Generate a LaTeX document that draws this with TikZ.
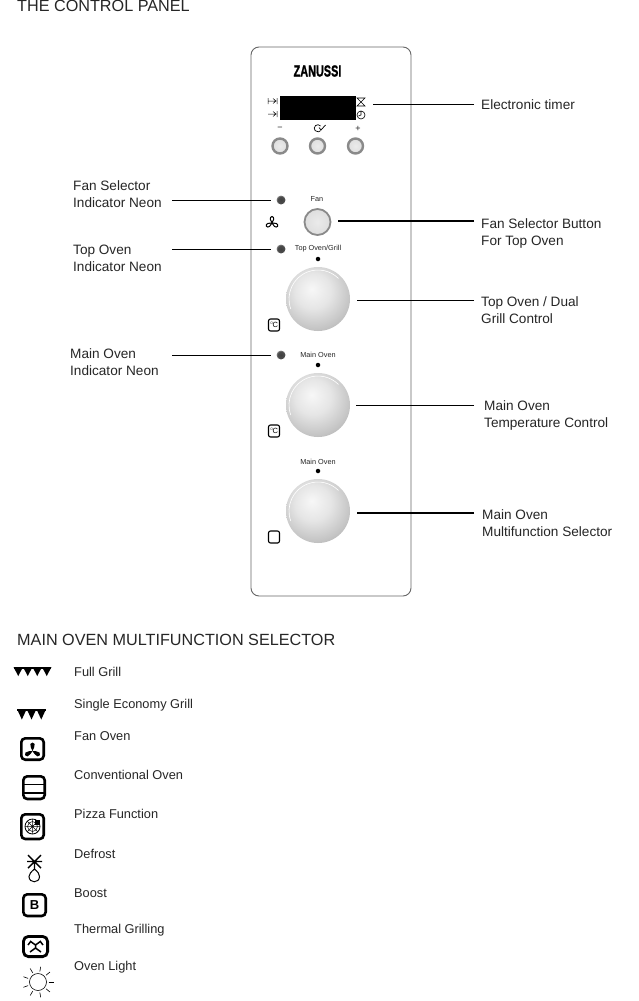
\documentclass[tikz,border=0pt]{standalone}
\usepackage{fontspec}
\setmainfont{Liberation Sans}
\definecolor{ink}{HTML}{262626}
\definecolor{rim}{HTML}{8A8A8A}
\pgfdeclareradialshading{knobshade}{\pgfpoint{-5bp}{8bp}}{color(0bp)=(white!97!black);color(14bp)=(white!90!black);color(28bp)=(white!77!black);color(40bp)=(white!63!black);color(50bp)=(white!55!black);color(60bp)=(white!60!black);color(70bp)=(white!62!black)}
\pgfdeclareradialshading{btnshade}{\pgfpoint{0bp}{0bp}}{color(0bp)=(white!92!black);color(30bp)=(white!86!black);color(40bp)=(white!80!black);color(50bp)=(white!80!black)}
\pgfdeclareradialshading{neonshade}{\pgfpoint{0bp}{0bp}}{color(0bp)=(black!75);color(20bp)=(black!70);color(30bp)=(black!30);color(40bp)=(black!35);color(50bp)=(black!60)}
\tikzset{
  x=1pt,y=-1pt,
  head/.style={font=\fontsize{16.2}{19}\selectfont,anchor=west,inner sep=0,text=ink},
  lab/.style={font=\fontsize{13.6}{17}\selectfont,anchor=west,align=left,inner sep=0,text=ink},
  item/.style={font=\fontsize{12.8}{15}\selectfont,anchor=base west,inner sep=0,text=ink},
  tiny/.style={font=\fontsize{7.3}{8}\selectfont,inner sep=0,text=ink},
  conn/.style={draw=black,line width=.8pt},
  connb/.style={draw=black,line width=1.4pt},
  knob/.style={circle,minimum size=64pt,inner sep=0,shading=knobshade},
  knobarc/.style={draw=white,line width=.6pt},
  btn/.style={circle,minimum size=15pt,inner sep=0,shading=btnshade,draw=rim,line width=2.4pt},
  fanbtn/.style={circle,minimum size=26pt,inner sep=0,shading=btnshade,draw=rim,line width=1.8pt},
  neon/.style={circle,minimum size=9pt,inner sep=0,shading=neonshade},
  pdot/.style={circle,fill=black,minimum size=4.5pt,inner sep=0},
  ico/.style={draw=black,line width=2.6pt,rounded corners=4pt},
  cbox/.style={draw=black,line width=1.1pt,rounded corners=2pt,minimum width=11pt,minimum height=12pt,inner sep=0,font=\fontsize{7.5}{8}\selectfont},
  thin2/.style={draw=black,line width=.6pt},
}
\begin{document}
\begin{tikzpicture}
\useasboundingbox (0,0) rectangle (638,1001);
\fill[white] (0,0) rectangle (638,1001);

\node[head] (h1) at (17,6) {THE CONTROL PANEL};
\node[head] (h2) at (17,640) {MAIN OVEN MULTIFUNCTION SELECTOR};

% panel
\draw[draw=black!60,line width=.9pt,rounded corners=8pt] (251,47) rectangle (411,596);
\node[inner sep=0,font=\bfseries\fontsize{16}{17}\selectfont,xscale=.68,text=black] (logo) at (317.5,71) {\addfontfeature{FakeBold=1.5}ZANUSSI};
\fill[black] (280,96) rectangle (356,120);

% timer symbols
\draw[thin2,line width=.5pt] (268,98)--(268,104) (268,101)--(276,101) (273,98.5)--(276,101)--(273,103.5) (277,98)--(277,104);
\draw[thin2,line width=.5pt] (268,114)--(276,114) (273,111.5)--(276,114)--(273,116.5) (277,111)--(277,117);
\draw[thin2,line width=.6pt] (357,98)--(365,98)--(357,106)--(365,106)--cycle;
\draw[thin2,line width=.6pt] (361,115) circle (4) (361,115)--(361,111.5) (361,115)--(358.5,116);

\node[tiny,font=\fontsize{9}{9}\selectfont] (minus) at (280,128.5) {\textminus};
\node[tiny,font=\fontsize{9}{9}\selectfont] (plus) at (358,128.5) {+};
\draw[thin2,line width=.7pt] (320.6,126) arc (-40:-320:3.6);
\draw[thin2,line width=.7pt] (319,127.5)--(321,130)--(325.5,125);

\node[btn] (b1) at (280,146) {};
\node[btn] (b2) at (317.5,146) {};
\node[btn] (b3) at (355.5,146) {};

\node[tiny] (fantxt) at (317,199) {Fan};
\node[fanbtn] (fanb) at (317.5,222) {};
\node[neon] (n1) at (281,200) {};
\node[neon] (n2) at (281,249) {};
\node[neon] (n3) at (281,355) {};

% fan icon on panel
\begin{scope}[shift={(272,223)}]
\foreach \a in {90,210,330}
  \draw[thin2,line width=1pt,rotate=\a,x=1pt,y=1pt] (0,0) .. controls (2,1.8) and (6,2.8) .. (6.5,0) .. controls (6,-2.8) and (2,-1.8) .. (0,0);
\end{scope}

\node[tiny] (t1) at (318,249) {Top Oven/Grill};
\node[pdot] (d1) at (318,259) {};
\node[knob] (k1) at (318,299) {};
\draw[knobarc] (k1.center) ++(160:29) arc (160:315:29);
\node[tiny] (t2) at (318,355) {Main Oven};
\node[pdot] (d2) at (318,365) {};
\node[knob] (k2) at (318,405) {};
\draw[knobarc] (k2.center) ++(160:29) arc (160:315:29);
\node[tiny] (t3) at (318,462) {Main Oven};
\node[pdot] (d3) at (318,471) {};
\node[knob] (k3) at (318,511) {};
\draw[knobarc] (k3.center) ++(160:29) arc (160:315:29);

% small panel icons
\node[cbox] (c1) at (274,325) {$^\circ\!$C};
\node[cbox] (c2) at (274,431) {$^\circ\!$C};
\node[cbox] (c3) at (274,537) {};

% left labels
\node[lab] (l1) at (73,194) {Fan Selector\\Indicator Neon};
\node[lab] (l2) at (73,258) {Top Oven\\Indicator Neon};
\node[lab] (l3) at (70,362) {Main Oven\\Indicator Neon};
% right labels
\node[lab] (r1) at (481,105) {Electronic timer};
\node[lab] (r2) at (481,233) {Fan Selector Button\\For Top Oven};
\node[lab] (r3) at (481,310) {Top Oven / Dual\\Grill Control};
\node[lab] (r4) at (484,415) {Main Oven\\Temperature Control};
\node[lab] (r5) at (482,523) {Main Oven\\Multifunction Selector};

\coordinate (cl1) at (172,200);
\coordinate (cl2) at (172,249);
\coordinate (cl3) at (172,355);
\coordinate (cr1) at (474,104);
\coordinate (cr2) at (474,221);
\coordinate (cr3) at (474,300);
\coordinate (cr4) at (474,405);
\coordinate (cr5) at (474,513);
\coordinate (tm) at (373,104);
\draw[conn,shorten >=5pt] (cl1) -- (n1);
\draw[conn,shorten >=5pt] (cl2) -- (n2);
\draw[conn,shorten >=5pt] (cl3) -- (n3);
\draw[conn] (cr1) -- (tm);
\draw[connb,shorten >=7pt] (cr2) -- (fanb.east |- cr2);
\draw[conn,shorten >=7pt] (cr3) -- (k1.east |- cr3);
\draw[conn,shorten >=6pt] (cr4) -- (k2.east |- cr4);
\draw[connb,shorten >=7pt] (cr5) -- (k3.east |- cr5);

% list
\node[item] at (74,676) {Full Grill};
\node[item] at (74,708) {Single Economy Grill};
\node[item] at (74,740) {Fan Oven};
\node[item] at (74,779) {Conventional Oven};
\node[item] at (74,818) {Pizza Function};
\node[item] at (74,858) {Defrost};
\node[item] at (74,897) {Boost};
\node[item] at (74,933) {Thermal Grilling};
\node[item] at (74,970) {Oven Light};

% full grill
\fill[black] (13.5,667) rectangle (51,669);
\foreach \x in {13.5,23,32.5,42} \fill[black] (\x,667)--(\x+9.5,667)--(\x+4.75,676)--cycle;
% single
\fill[black] (17,709) rectangle (46,711);
\foreach \x in {17,26.7,36.4} \fill[black] (\x,709)--(\x+9.7,709)--(\x+4.85,719.5)--cycle;
% fan oven
\draw[ico] (21.3,738.3) rectangle (43.7,759.7);
\begin{scope}[shift={(32.5,751)}]
\foreach \a in {90,210,330}
  \fill[black,rotate=\a,x=1pt,y=1pt] (0,0) .. controls (2,1) and (4,2.4) .. (7,2.2) .. controls (9,1.6) and (9,-1.6) .. (7,-2.2) .. controls (4,-2.4) and (2,-1) .. (0,0);
\end{scope}
% conventional
\draw[ico] (23.3,776.3) rectangle (44.7,799);
\draw[black,line width=1.8pt] (23,784.5) -- (45,784.5) (23,793) -- (45,793);
% pizza
\draw[ico] (21.3,814.3) rectangle (43.7,839);
\draw[black,line width=.8pt] (32.5,826.5) circle (7.5);
\draw[black,line width=.5pt] (32.5,826.5) circle (5) (25,826.5)--(40,826.5) (32.5,819)--(32.5,834) (27.2,821.2)--(37.8,831.8) (27.2,831.8)--(37.8,821.2);
\fill[black] (35,820) rectangle (40,825);
% defrost
\draw[black,line width=1.4pt] (28,855)--(41,868) (28,868)--(41,855) (27,861.5)--(42,861.5) (34.5,861.5)--(34.5,870);
\draw[black,line width=1pt] (34.5,869) .. controls (31,872) and (29,874) .. (29,876.5) .. controls (29,883.5) and (39.5,883.5) .. (39.5,876.5) .. controls (39.5,874) and (38,872) .. (34.5,869) -- cycle;
% boost
\draw[ico] (23.3,894.3) rectangle (45.7,916);
\node[inner sep=0,font=\bfseries\fontsize{13}{14}\selectfont,text=black] (boostb) at (34.5,905) {B};
% thermal
\draw[ico,rounded corners=5pt,line width=2.8pt] (23.4,936.4) rectangle (47.6,956.6);
\draw[black,line width=1.5pt] (30,941)--(35.5,945)--(41,941) (30,952)--(35.5,948)--(41,952) (35.5,945)--(35.5,948) (28,945)--(31,941) (43,945)--(40,941);
% light
\draw[black,line width=.6pt] (38,982) circle (8.5);
\foreach \a in {0,40,...,320}
  \draw[black,line width=.6pt] (38,982) ++(\a:10.5) -- ++(\a:5);
\end{tikzpicture}
\end{document}
